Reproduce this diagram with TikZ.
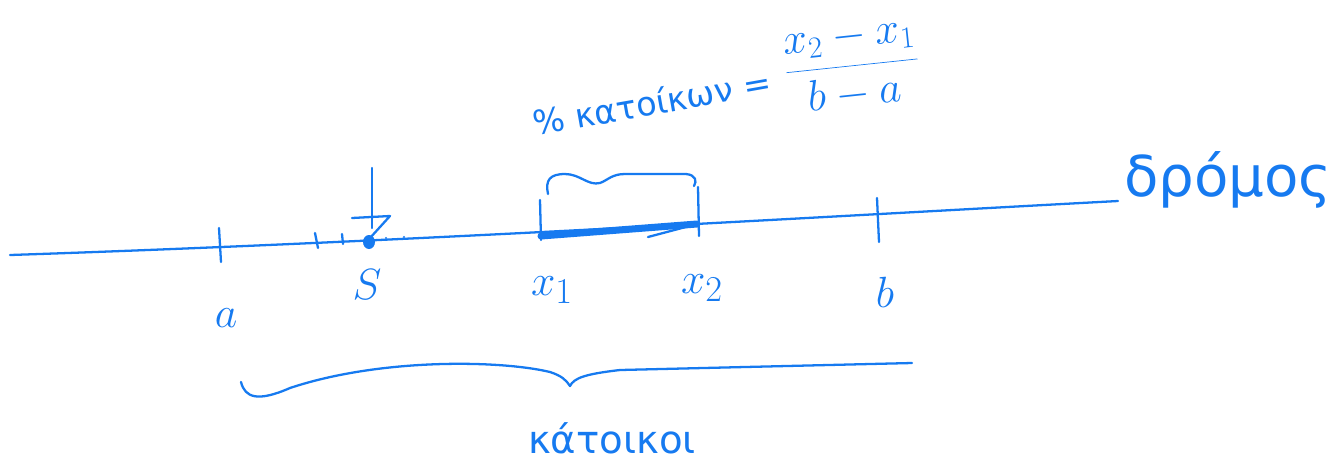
\documentclass[tikz,border=0pt]{standalone}
\usepackage{fontspec}
\setmainfont{DejaVu Sans}
\definecolor{ink}{RGB}{22,122,240}
\begin{document}
\begin{tikzpicture}[x=0.02cm,y=-0.02cm, line cap=round, line join=round,
  pen/.style={draw=ink, line width=1.3pt},
  lbl/.style={text=ink, font=\fontsize{32}{36}\selectfont, inner sep=0pt},
  txt/.style={text=ink, font=\fontsize{22}{26}\selectfont, inner sep=0pt}]
\useasboundingbox (0,0) rectangle (1335,461);
% road
\coordinate (r0) at (10,255);
\coordinate (r1) at (1118,201);
\draw[pen] (r0) .. controls (400,242) and (800,218) .. (r1);
% ticks
\coordinate (aT) at (219,228); \coordinate (aB) at (221,262);
\draw[pen] (aT) -- (aB);
\coordinate (x1T) at (540,200); \coordinate (x1B) at (541,240);
\draw[pen] (x1T) -- (x1B);
\coordinate (x2T) at (698,187); \coordinate (x2B) at (699,236);
\draw[pen] (x2T) -- (x2B);
\coordinate (bT) at (877,198); \coordinate (bB) at (879,242);
\draw[pen] (bT) -- (bB);
% S marker
\coordinate (sT) at (372,168); \coordinate (sB) at (372,228);
\draw[pen] (sT) -- (sB);
\coordinate (tr1) at (352,218); \coordinate (tr2) at (390,216); \coordinate (tr3) at (370,238);
\draw[pen] (tr1) -- (tr2) -- (tr3);
\fill[ink] (369,242) ellipse [x radius=6, y radius=7];
\coordinate (k1T) at (315,233); \coordinate (k1B) at (318,248);
\draw[pen] (k1T) -- (k1B);
\coordinate (k2T) at (342,234); \coordinate (k2B) at (343,244);
\draw[pen] (k2T) -- (k2B);
\fill[ink] (386,238) circle (1.2) (404,237) circle (1.2);
% thick segment
\coordinate (p1) at (541,236); \coordinate (p2) at (697,224);
\draw[ink, line width=4pt] (p1) -- (p2);
\coordinate (q1) at (648,237);
\draw[pen] (q1) -- (p2);
% small brace above segment
\coordinate (sb0) at (548,194); \coordinate (sb1) at (694,186);
\draw[pen] (sb0) .. controls (545,180) and (550,174) .. (565,174)
  .. controls (580,174) and (588,186) .. (600,183)
  .. controls (608,180) and (612,174) .. (625,174)
  -- (686,174) .. controls (696,175) and (697,181) .. (sb1);
% big brace below
\coordinate (bb0) at (241,382); \coordinate (bb1) at (912,363);
\coordinate (bbc) at (570,386);
\draw[pen] (bb0) .. controls (245,398) and (258,402) .. (290,388)
  .. controls (380,358) and (500,360) .. (550,372)
  .. controls (562,376) and (566,380) .. (bbc)
  .. controls (574,378) and (585,374) .. (620,370)
  -- (bb1);
% labels
\node[lbl] (la) at (226,318) {$a$};
\node[lbl] (lS) at (367,285) {$S$};
\node[lbl] (lx1) at (552,290) {$x_1$};
\node[lbl] (lx2) at (702,288) {$x_2$};
\node[lbl] (lb) at (885,292) {$b$};
\node[lbl] (road) at (1228,180) {δρόμος};
\node[txt] (res) at (612,438) {κάτοικοι};
\node[text=ink, inner sep=0pt, rotate=10, font=\fontsize{19}{23}\selectfont] (pct) at (652,102) {\% κατοίκων =};
\node[text=ink, inner sep=0pt, rotate=6, font=\fontsize{23}{27}\selectfont] (frac) at (852,66)
  {$\displaystyle\frac{x_2 - x_1}{b - a}$};
\end{tikzpicture}
\end{document}
